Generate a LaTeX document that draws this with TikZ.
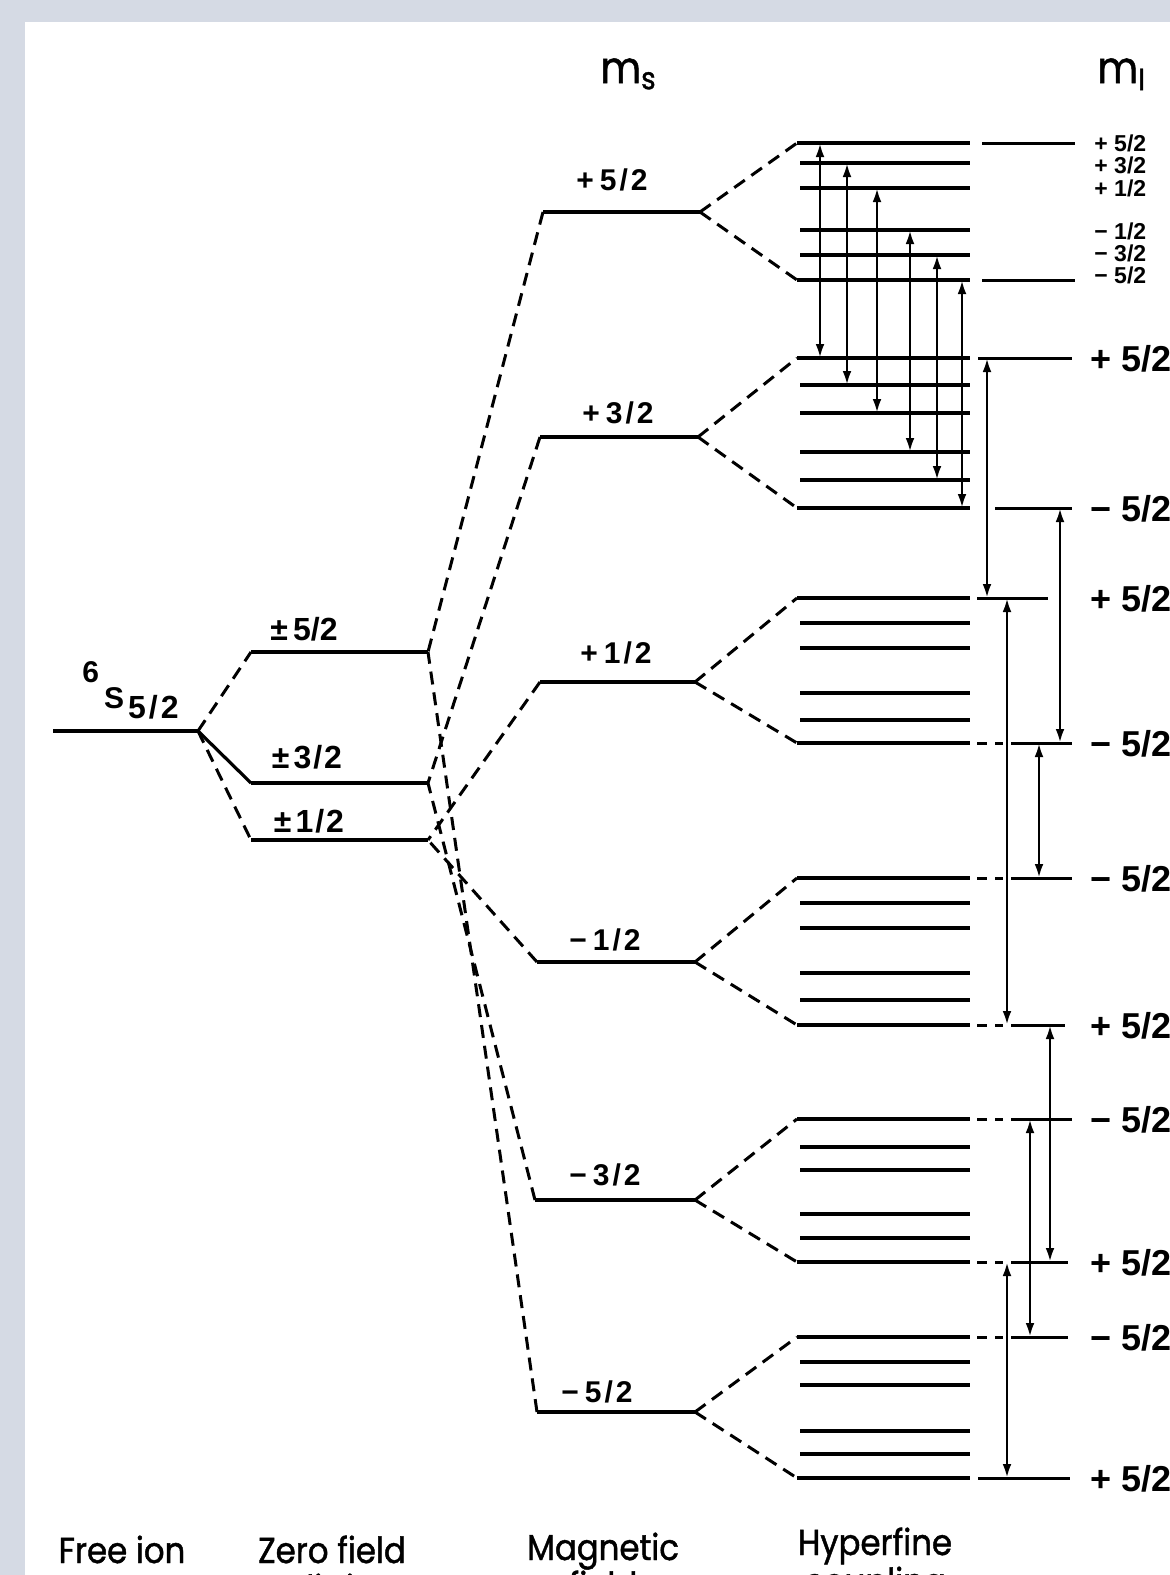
\documentclass[tikz,border=0pt]{standalone}
\usepackage{fontspec}
\setmainfont{Liberation Sans}
\newfontfamily\capfont[FakeStretch=0.9,FakeBold=1.2]{Poppins}
\usepackage{xcolor}
\definecolor{bgframe}{HTML}{D5DAE4}
\usetikzlibrary{arrows.meta}
\tikzset{
  lvl/.style={line width=2.1pt},
  lnk/.style={line width=1.6pt},
  dsh/.style={line width=1.5pt, dash pattern=on 6.5pt off 4pt},
  hfl/.style={line width=2.1pt},
  ext/.style={line width=1.5pt},
  extd/.style={ext, dash pattern=on 5pt off 4pt on 4pt off 4pt on 60pt off 0pt},
  ar/.style={{Latex[length=7pt,width=4.4pt]}-{Latex[length=7pt,width=4.4pt]}, line width=1.3pt},
  mslab/.style={inner sep=0pt, anchor=base, font=\bfseries\fontsize{15}{15}\selectfont},
  zlab/.style={mslab, font=\bfseries\fontsize{16}{16}\selectfont},
  milab/.style={inner sep=0pt, anchor=base west, font=\bfseries\fontsize{18}{18}\selectfont},
  misml/.style={milab, font=\bfseries\fontsize{11.5}{11.5}\selectfont},
  stage/.style={inner sep=0pt, anchor=base, font=\capfont\fontsize{18}{18}\selectfont},
}

\begin{document}
\begin{tikzpicture}[x=0.5pt,y=-0.5pt]
  \useasboundingbox (0,0) rectangle (1170,1575);
  \fill[bgframe] (0,0) rectangle (1170,1575);
  \fill[white] (25,22) rectangle (1170,1575);

  % free ion and zero field splitting
  \coordinate (fL) at (53,731);
  \coordinate (fR) at (198,731);
  \draw[lvl] (fL) -- (fR);
  \foreach \i/\y in {1/652,2/783,3/840}{
    \coordinate (zL\i) at (251,\y);
    \coordinate (zR\i) at (428,\y);
    \draw[lvl] (zL\i) -- (zR\i);
  }
  \draw[dsh] (fR) -- (zL1);
  \draw[lnk] (fR) -- (zL2);
  \draw[dsh] (fR) -- (zL3);

  \node[inner sep=0pt, anchor=base west, font=\bfseries\fontsize{15}{15}\selectfont] (term) at (82,708)
    {{\fontsize{15}{15}\selectfont\raisebox{13pt}{6}}\kern2.5pt S\kern2pt\raisebox{-5pt}{\fontsize{16}{16}\selectfont 5\kern1.5pt/\kern1.5pt2}};
  \node[zlab] (z1lab) at (304,640) {±\,5/2};
  \node[zlab] (z2lab) at (307,768) {±\kern2pt3\kern1pt/\kern1pt2};
  \node[zlab] (z3lab) at (309,832) {±\kern2pt1\kern1pt/\kern1pt2};

  % magnetic field
  \foreach \i/\xl/\xr/\y in {1/543/700/212, 2/540/698/437, 3/540/695/682,
                             4/537/695/962, 5/535/695/1200, 6/537/695/1412}{
    \coordinate (mL\i) at (\xl,\y);
    \coordinate (ms\i) at (\xr,\y);
    \draw[lvl] (mL\i) -- (ms\i);
  }
  \draw[dsh] (mL1) -- (zR1);
  \draw[dsh] (mL6) -- (zR1);
  \draw[dsh] (mL2) -- (zR2);
  \draw[dsh] (mL5) -- (zR2);
  \draw[dsh] (mL3) -- (zR3);
  \draw[dsh] (mL4) -- (zR3);

  \foreach \x/\y/\s/\n in {612/190/+/5, 618/423/+/3, 616/663/+/1,
                           605/950/−/1, 605/1185/−/3, 597/1402/−/5}
    \node[mslab] (ms\n\s) at (\x,\y) {\s\kern3pt\n\kern1.5pt/\kern1.5pt2};

  % hyperfine coupling
  \foreach \g/\ya/\yb/\yc/\yd/\ye/\yf in {1/143/163/188/230/255/280,
      2/358/385/413/452/480/508, 3/598/623/648/693/720/743,
      4/878/903/928/973/1000/1025, 5/1119/1147/1170/1214/1238/1262,
      6/1337/1362/1385/1431/1454/1478}{
    \coordinate (t\g) at (797,\ya);
    \coordinate (b\g) at (797,\yf);
    \draw[dsh] (ms\g) -- (t\g);
    \draw[dsh] (ms\g) -- (b\g);
    \draw[hfl] (t\g) -- (970,\ya);
    \draw[hfl] (b\g) -- (970,\yf);
    \foreach \y in {\yb,\yc,\yd,\ye}
      \draw[hfl] (800,\y) -- (970,\y);
  }

  % extensions to the mI labels
  \draw[ext] (982,143) -- (1075,143);
  \draw[ext] (982,280) -- (1075,280);
  \draw[ext] (978,358) -- (1072,358);
  \draw[ext] (995,508) -- (1072,508);
  \draw[ext] (977,598) -- (1048,598);
  \foreach \y/\xe in {743/1072, 878/1072, 1025/1065, 1119/1072, 1262/1068, 1337/1068}
    \draw[extd] (977,\y) -- (\xe,\y);
  \draw[ext] (978,1478) -- (1070,1478);

  % transitions
  \foreach \x/\ya/\yb in {820/143/358, 847/163/385, 877/188/413, 910/230/452,
                          937/255/480, 962/280/508, 987/358/598, 1060/508/743,
                          1007/598/1025, 1039/743/878, 1050/1025/1262,
                          1030/1119/1337, 1007/1262/1478}
    \draw[ar] (\x,\ya) -- (\x,\yb);

  % mI labels
  \foreach \y/\s/\n in {143/+/5, 165/+/3, 188/+/1, 231/−/1, 253/−/3, 275/−/5}
    \node[misml] (mi\n\s) at (1094,\y+8) {\s\ \n/2};
  \foreach \y/\s in {358/+, 508/−, 598/+, 743/−, 878/−, 1025/+,
                     1119/−, 1262/+, 1337/−, 1478/+}
    \node[milab] (mi\y) at (1090,\y+13) {\s\ 5/2};

  % headings
  \node[stage, anchor=base west, font=\capfont\fontsize{22}{22}\selectfont] (ms) at (600,83) {m\textsubscript{s}};
  \node[stage, anchor=base west, font=\capfont\fontsize{22}{22}\selectfont] (mi) at (1097,83) {m\textsubscript{I}};
  \node[stage] (free) at (122,1563) {Free ion};
  \node[stage] (zero) at (332,1563) {Zero field};
  \node[stage] (zero2) at (332,1601) {splitting};
  \node[stage] (magn) at (603,1560) {Magnetic};
  \node[stage] (magn2) at (603,1598) {field};
  \node[stage] (hyp) at (875,1555) {Hyperfine};
  \node[stage] (hyp2) at (875,1594) {coupling};
\end{tikzpicture}
\end{document}
